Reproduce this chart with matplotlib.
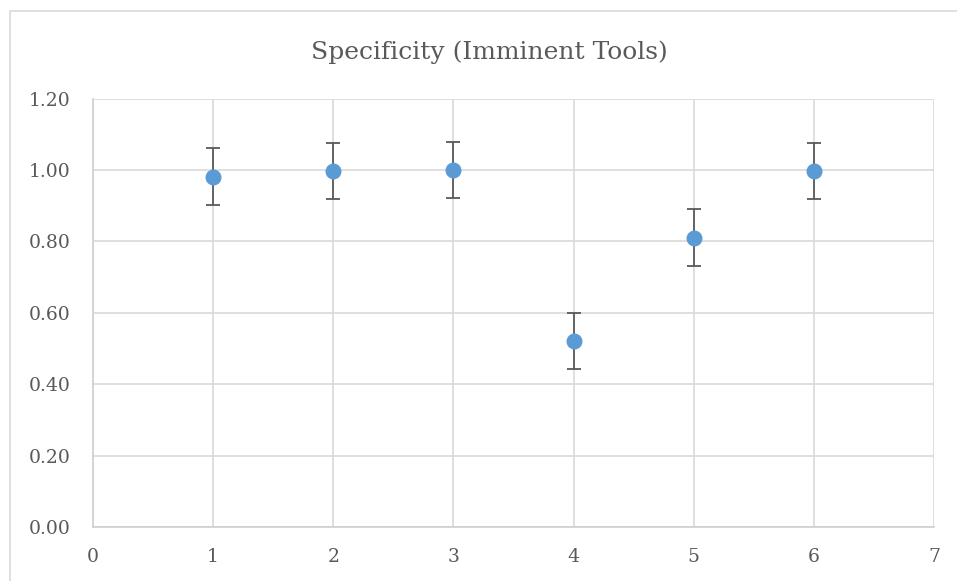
import matplotlib
matplotlib.use("Agg")
import matplotlib.pyplot as plt
from matplotlib.patches import Rectangle

x_values = [1, 2, 3, 4, 5, 6]
specificity = [0.982, 0.998, 1.000, 0.521, 0.811, 0.997]
errors = [0.079, 0.079, 0.079, 0.079, 0.079, 0.079]
x_ticks = [0, 1, 2, 3, 4, 5, 6, 7]
y_ticks = [0.0, 0.2, 0.4, 0.6, 0.8, 1.0, 1.2]
title = "Specificity (Imminent Tools)"

W, H = 957, 581
fig = plt.figure(figsize=(W / 100, H / 100), dpi=100)
fig.patch.set_facecolor("white")

# outer chart border
fig.patches.append(Rectangle((10 / W, -0.1), 1.2, (H - 11) / H + 0.1,
                             transform=fig.transFigure, fill=False,
                             edgecolor="#D9D9D9", linewidth=1.2))

ax = fig.add_axes([93 / W, (H - 527) / H, (934 - 93) / W, (527 - 98.7) / H])
font = "DejaVu Serif"
text_color = "#595959"

ax.errorbar(x_values, specificity, yerr=errors, fmt="o", color="#5B9BD5",
            markersize=10.5, ecolor="#595959", elinewidth=1.3, capsize=4.8,
            capthick=1.3, zorder=3)

ax.set_xlim(0, 7)
ax.set_ylim(0, 1.2)
ax.set_xticks(x_ticks)
ax.set_yticks(y_ticks)
ax.set_xticklabels([str(t) for t in x_ticks], fontfamily=font, fontsize=13.5, color=text_color)
ax.set_yticklabels([f"{t:.2f}" for t in y_ticks], fontfamily=font, fontsize=13.5, color=text_color)
ax.tick_params(axis="y", length=0, pad=16)
ax.tick_params(axis="x", length=0, pad=15)
ax.grid(True, color="#D9D9D9", linewidth=1.2, zorder=0)
ax.set_axisbelow(True)
for side in ["top", "right"]:
    ax.spines[side].set_visible(False)
for side in ["left", "bottom"]:
    ax.spines[side].set_color("#D0D0D0")
    ax.spines[side].set_linewidth(1.2)

fig.text((311 + 667) / 2 / W, (H - 52) / H, title, ha="center", va="center",
         fontfamily=font, fontsize=18, color=text_color)

fig.savefig("out.png", dpi=100, facecolor="white")
